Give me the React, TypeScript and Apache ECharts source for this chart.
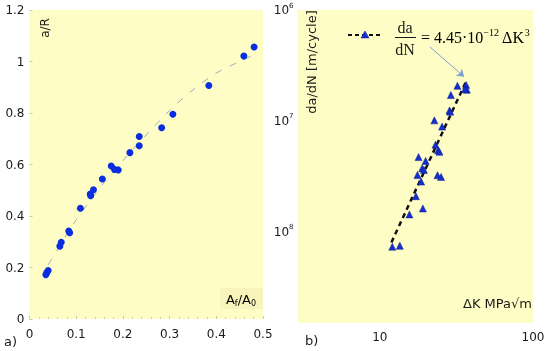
import { useEffect, useRef } from "react";
import * as echarts from "echarts";

// Left panel: a/R versus Af/A0
const areaRatio = [0.035, 0.037, 0.040, 0.065, 0.068, 0.084, 0.086, 0.109, 0.130, 0.131, 0.137, 0.156, 0.175, 0.182, 0.190, 0.215, 0.235, 0.235, 0.283, 0.307, 0.384, 0.459, 0.481];
const depthRatio = [0.172, 0.180, 0.188, 0.283, 0.298, 0.342, 0.335, 0.430, 0.485, 0.479, 0.502, 0.544, 0.594, 0.581, 0.579, 0.646, 0.673, 0.709, 0.743, 0.795, 0.907, 1.021, 1.056];
const fitAreaRatio = [0.04, 0.06, 0.08, 0.10, 0.13, 0.16, 0.20, 0.25, 0.30, 0.35, 0.40, 0.45, 0.48];
const fitDepthRatio = [0.21, 0.27, 0.33, 0.385, 0.46, 0.53, 0.615, 0.715, 0.81, 0.89, 0.955, 1.0, 1.025];

// Right panel: da/dN versus ΔK
const deltaK = [36.6, 37.0, 35.9, 32.1, 29.1, 28.5, 28.8, 22.7, 25.5, 23.1, 24.0, 24.5, 17.9, 19.9, 18.9, 19.4, 17.6, 23.8, 25.1, 18.6, 17.2, 19.1, 15.6, 12.06, 13.5];
const growthRate = [2.11e-7, 1.91e-7, 1.93e-7, 2.07e-7, 1.71e-7, 1.24e-7, 1.21e-7, 1.01e-7, 8.87e-8, 6.09e-8, 5.42e-8, 5.26e-8, 4.71e-8, 4.35e-8, 3.74e-8, 3.61e-8, 3.25e-8, 3.23e-8, 3.12e-8, 2.83e-8, 2.09e-8, 1.62e-8, 1.43e-8, 7.31e-9, 7.46e-9];
const fitDeltaK = [11.9, 36.2];
const fitGrowthRate = [8.0e-9, 2.2e-7];
const arrowTip = [35.5, 2.5e-7];

const xTicksRight = [10, 100];

const SANS = "DejaVu Sans";
const SERIF = "Liberation Serif";
const TXT = "#1a1a1a";
const BG = "#FEFDC6";

export default function App() {
  const ref = useRef<HTMLDivElement>(null);
  useEffect(() => {
    const chart = echarts.init(ref.current!, null, { renderer: "svg" });
    const isPow = (v: number) => {
      const e = Math.log10(v);
      return Math.abs(e - Math.round(e)) < 1e-6;
    };
    const option: any = {
      animation: false,
      grid: [
        { left: 29.5, top: 10, width: 233.5, height: 309, show: true, backgroundColor: BG, borderWidth: 0 },
        { left: 297.5, top: 10, width: 235.5, height: 313, show: true, backgroundColor: BG, borderWidth: 0 },
      ],
      xAxis: [
        {
          type: "value", gridIndex: 0, min: 0, max: 0.5, interval: 0.1,
          axisLine: { show: false },
          axisTick: { show: true, inside: true, length: 3, lineStyle: { color: "#c8c8b0" } },
          minorTick: { show: true, splitNumber: 5, length: 2, lineStyle: { color: "#d0d0b8" } },
          splitLine: { show: false },
          axisLabel: { margin: 9, fontSize: 12, color: TXT, fontFamily: SANS },
        },
        {
          type: "log", gridIndex: 1, min: 2.9, max: 100, logBase: 10,
          axisLine: { show: false },
          axisTick: { show: false },
          splitLine: { show: false },
          axisLabel: {
            margin: 8, fontSize: 12, color: TXT, fontFamily: SANS,
            formatter: (v: number) => (xTicksRight.some((t) => Math.abs(t - v) / t < 1e-6) ? String(Math.round(v)) : ""),
          },
        },
      ],
      yAxis: [
        {
          type: "value", gridIndex: 0, min: 0, max: 1.2, interval: 0.2,
          axisLine: { show: false },
          axisTick: { show: true, inside: true, length: 3, lineStyle: { color: "#c8c8b0" } },
          splitLine: { show: false },
          axisLabel: { margin: 5, fontSize: 12, color: TXT, fontFamily: SANS },
        },
        {
          type: "log", gridIndex: 1, min: 1.5e-9, max: 1e-6, logBase: 10,
          axisLine: { show: false },
          axisTick: { show: false },
          splitLine: { show: false },
          axisLabel: {
            margin: 4, color: TXT, fontFamily: SANS,
            formatter: (v: number) => {
              if (!isPow(v)) return "";
              const e = Math.round(Math.log10(v));
              return `{b|10}{s|${-e}}`;
            },
            rich: {
              b: { fontSize: 12, fontFamily: SANS, color: TXT, lineHeight: 16 },
              s: { fontSize: 7, fontFamily: SANS, color: TXT, verticalAlign: "top", lineHeight: 9 },
            },
          },
        },
      ],
      series: [
        {
          type: "line", xAxisIndex: 0, yAxisIndex: 0, symbol: "none", smooth: 0.3, z: 2,
          data: fitAreaRatio.map((x, i) => [x, fitDepthRatio[i]]),
          lineStyle: { color: "#a4a8bc", width: 1, type: [7, 9] },
        },
        {
          type: "scatter", xAxisIndex: 0, yAxisIndex: 0, symbol: "circle", symbolSize: 7, z: 3,
          data: areaRatio.map((x, i) => [x, depthRatio[i]]),
          itemStyle: { color: "#0a2de0", opacity: 1 },
        },
        {
          type: "line", xAxisIndex: 1, yAxisIndex: 1, symbol: "none", z: 2,
          data: fitDeltaK.map((x, i) => [x, fitGrowthRate[i]]),
          lineStyle: { color: "#111", width: 2.5, type: [5, 4] },
          markLine: {
            silent: true, symbol: ["none", "arrow"], symbolSize: 7,
            label: { show: false },
            lineStyle: { color: "#7f9fce", width: 1, type: "solid" },
            data: [[{ x: 430, y: 47 }, { coord: arrowTip }]],
          },
        },
        {
          type: "scatter", xAxisIndex: 1, yAxisIndex: 1, symbol: "triangle", symbolSize: 7, z: 3,
          data: deltaK.map((x, i) => [x, growthRate[i]]),
          itemStyle: { color: "#1430cc", borderColor: "#0a1a90", borderWidth: 0.5, opacity: 1 },
        },
      ],
      graphic: [
        { type: "text", x: 45, y: 28, rotation: Math.PI / 2, style: { text: "a/R", font: `12px '${SANS}'`, fill: TXT, align: "center", verticalAlign: "middle" } },
        { type: "rect", shape: { x: 220, y: 288, width: 43, height: 21 }, style: { fill: "#F8F5BC" } },
        {
          type: "text", x: 241, y: 299,
          style: {
            text: "{n|A}{sub|f}{n|/A}{sub|0}", align: "center", verticalAlign: "middle",
            rich: {
              n: { fontSize: 13, fontFamily: SANS, color: TXT, lineHeight: 16 },
              sub: { fontSize: 8, fontFamily: SANS, color: TXT, verticalAlign: "bottom", lineHeight: 10 },
            },
          },
        },
        { type: "text", x: 4, y: 341, style: { text: "a)", font: `13px '${SANS}'`, fill: TXT, verticalAlign: "middle" } },
        { type: "text", x: 305, y: 340, style: { text: "b)", font: `13px '${SANS}'`, fill: TXT, verticalAlign: "middle" } },
        { type: "text", x: 311, y: 62, rotation: Math.PI / 2, style: { text: "da/dN [m/cycle]", font: `13px '${SANS}'`, fill: TXT, align: "center", verticalAlign: "middle" } },
        { type: "text", x: 532, y: 303, style: { text: "ΔK MPa√m", font: `13px '${SANS}'`, fill: TXT, align: "right", verticalAlign: "middle" } },
        // legend
        { type: "line", shape: { x1: 348, y1: 35, x2: 382, y2: 35 }, style: { stroke: "#111", lineWidth: 2, lineDash: [4, 3] } },
        { type: "polygon", shape: { points: [[365, 31], [361, 38], [369, 38]] }, style: { fill: "#1430cc", stroke: "#0a1a90", lineWidth: 0.5 } },
        { type: "text", x: 405, y: 27, style: { text: "da", font: `16px '${SERIF}'`, fill: TXT, align: "center", verticalAlign: "middle" } },
        { type: "line", shape: { x1: 395, y1: 37.5, x2: 416, y2: 37.5 }, style: { stroke: TXT, lineWidth: 1 } },
        { type: "text", x: 405, y: 49, style: { text: "dN", font: `16px '${SERIF}'`, fill: TXT, align: "center", verticalAlign: "middle" } },
        {
          type: "text", x: 421, y: 37,
          style: {
            text: "{n|= 4.45·10}{s|−12}{n| ΔK}{s|3}", align: "left", verticalAlign: "middle",
            rich: {
              n: { fontSize: 16, fontFamily: SERIF, color: TXT, lineHeight: 20 },
              s: { fontSize: 10, fontFamily: SERIF, color: TXT, verticalAlign: "top", lineHeight: 12 },
            },
          },
        },
      ],
    };
    chart.setOption(option);
    return () => chart.dispose();
  }, []);
  return <div ref={ref} style={{ position: "fixed", left: 0, top: 0, width: 550, height: 351 }} />;
}
